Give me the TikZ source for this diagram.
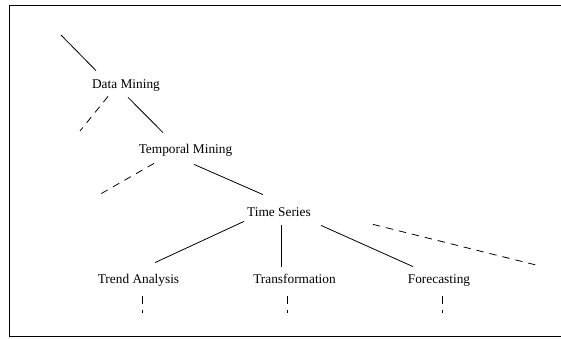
\documentclass[tikz,border=0pt]{standalone}
\usepackage{fontspec}
\setmainfont{Liberation Serif}
\usepackage{tikz}

\begin{document}
\begin{tikzpicture}[
        x=0.75pt, y=-0.75pt,
        term/.style={inner sep=0pt, text height=7pt, text depth=2.2pt,
          font=\normalsize},
        link/.style={line width=0.6pt, draw=black},
        more/.style={link, dash pattern=on 5.5pt off 4.5pt},
        frame/.style={line width=0.8pt, draw=black},
      ]
        \useasboundingbox (0,0) rectangle (561,339);
        \draw[frame] (561,5.5) -- (9.5,5.5) -- (9.5,336.5) -- (561,336.5);

        \node[term] (dm) at (126,85) {Data Mining};
        \node[term] (tm) at (185.5,150) {Temporal Mining};
        \node[term] (ts) at (279,213) {Time Series};
        \node[term] (trend) at (138.5,280) {Trend Analysis};
        \node[term] (trans) at (294.5,280) {Transformation};
        \node[term] (fore) at (439,280) {Forecasting};

        % loose ends
        \coordinate (up) at (61,35);
        \coordinate (dmside) at (80,131);
        \coordinate (tmside) at (97,196);
        \coordinate (tsside) at (540,266);
        \coordinate (trenddown) at (142,313);
        \coordinate (transdown) at (287,313);
        \coordinate (foredown) at (442,313);

        \draw[link] (up) -- ([shift={(-30,-8)}]dm.north);
        \draw[more] ([shift={(-18,5)}]dm.south) -- (dmside);
        \draw[link] ([shift={(2,6)}]dm.south) -- ([shift={(-22.5,-11)}]tm.north);
        \draw[more] ([shift={(-31.5,7)}]tm.south) -- (tmside);
        \draw[link] ([shift={(8.5,8)}]tm.south) -- ([shift={(-16,-12)}]ts.north);
        \draw[link] ([shift={(-35,2)}]ts.south) -- ([shift={(16.5,-11)}]trend.north);
        \draw[link] ([shift={(2,6)}]ts.south) -- ([shift={(-13.5,-7)}]trans.north);
        \draw[link] ([shift={(42,6)}]ts.south) -- ([shift={(-26,-7)}]fore.north);
        \draw[more] ([shift={(94,5)}]ts.south) -- (tsside);
        \draw[more] ([shift={(3.5,10)}]trend.south) -- (trenddown);
        \draw[more] ([shift={(-7.5,10)}]trans.south) -- (transdown);
        \draw[more] ([shift={(3,10)}]fore.south) -- (foredown);
      \end{tikzpicture}
\end{document}
